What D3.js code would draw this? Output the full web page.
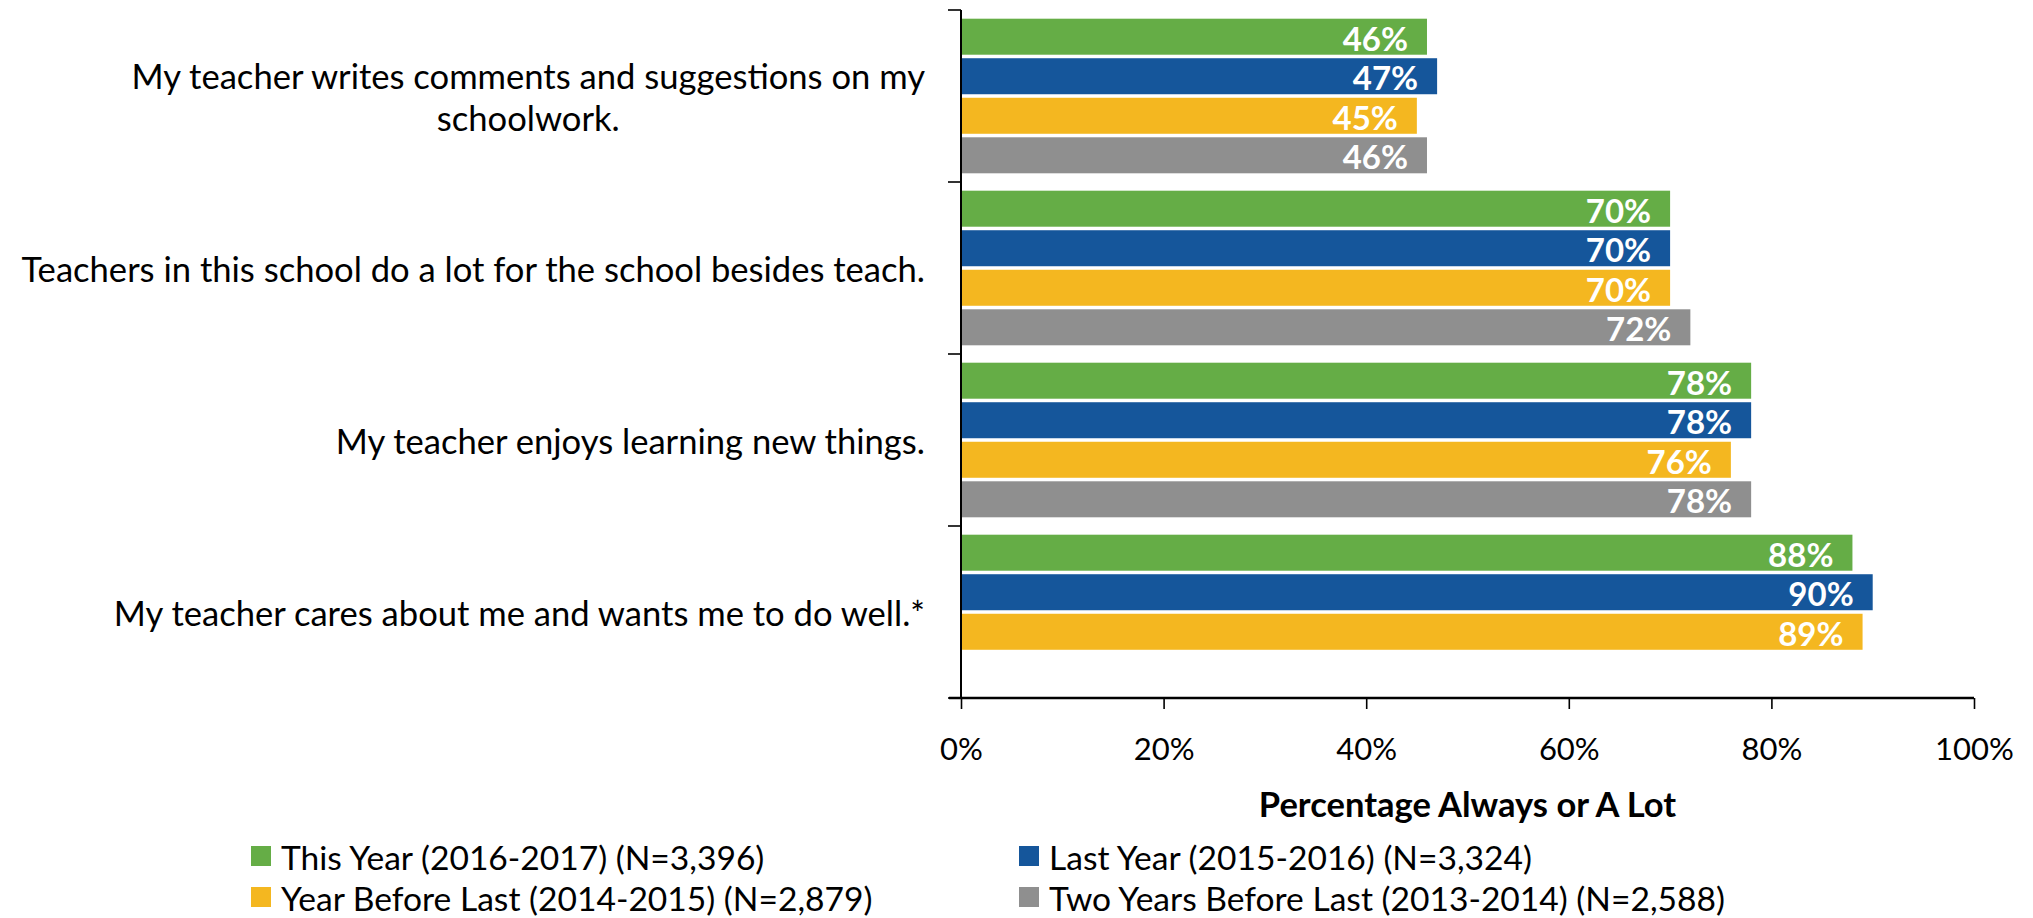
<!DOCTYPE html>
<html>
<head>
<meta charset="utf-8">
<script src="https://cdn.jsdelivr.net/npm/d3@7"></script>
<style>
  html, body { margin: 0; padding: 0; background: #ffffff; }
  svg { display: block; }
  text { font-family: Lato, "Open Sans", sans-serif; fill: #000; }
</style>
</head>
<body>
<svg id="chart" width="2033" height="918"></svg>
<script>
// Survey items, top to bottom
const categories = [
  "My teacher writes comments and suggestions on my schoolwork.",
  "Teachers in this school do a lot for the school besides teach.",
  "My teacher enjoys learning new things.",
  "My teacher cares about me and wants me to do well.*"
];
// Wrapped lines for the item labels
const categoryLines = [
  ["My teacher writes comments and suggestions on my", "schoolwork."],
  ["Teachers in this school do a lot for the school besides teach."],
  ["My teacher enjoys learning new things."],
  ["My teacher cares about me and wants me to do well.*"]
];

// Percentage answering "Always" or "A Lot" per year
const thisYear       = [46, 70, 78, 88];
const lastYear       = [47, 70, 78, 90];
const yearBeforeLast = [45, 70, 76, 89];
const twoYearsBefore = [46, 72, 78, null];

const seriesNames = [
  "This Year (2016-2017) (N=3,396)",
  "Last Year (2015-2016) (N=3,324)",
  "Year Before Last (2014-2015) (N=2,879)",
  "Two Years Before Last (2013-2014) (N=2,588)"
];
const seriesColors = ["#65ad46", "#15569b", "#f4b720", "#8f8f8f"];
const xTicks = [0, 20, 40, 60, 80, 100];
const xTitle = "Percentage Always or A Lot";

const seriesValues = [thisYear, lastYear, yearBeforeLast, twoYearsBefore];
const series = seriesNames.map((name, i) => ({ name, color: seriesColors[i], values: seriesValues[i] }));

const svg = d3.select("#chart");

const plot = { left: 961, right: 1974, top: 10, bottom: 698 };

const x = d3.scaleLinear().domain([0, 100]).range([plot.left, plot.right]);
const y = d3.scaleBand().domain(categories).range([plot.top, plot.bottom]).padding(0);
const ySub = d3.scaleBand()
  .domain(seriesNames)
  .range([0, y.bandwidth()])
  .paddingInner(0.089)
  .paddingOuter(0.22);

// Bars
const groups = svg.append("g").selectAll("g")
  .data(categories)
  .join("g")
  .attr("transform", d => `translate(0,${y(d)})`);

const cells = groups.selectAll("g.cell")
  .data((c, ci) => series.map(s => ({ s, v: s.values[ci] })).filter(d => d.v != null))
  .join("g").attr("class", "cell");

cells.append("rect")
  .attr("x", x(0))
  .attr("y", d => ySub(d.s.name))
  .attr("width", d => x(d.v) - x(0))
  .attr("height", ySub.bandwidth())
  .attr("fill", d => d.s.color);

cells.append("text")
  .attr("x", d => x(d.v) - 19)
  .attr("y", d => ySub(d.s.name) + ySub.bandwidth() / 2 + 1)
  .attr("text-anchor", "end")
  .attr("dominant-baseline", "central")
  .style("font-weight", "bold")
  .style("font-size", "33px")
  .style("fill", "#fff")
  .text(d => d.v + "%");

// Y axis: vertical line with ticks on category boundaries
const yAxis = svg.append("g");
yAxis.append("line")
  .attr("x1", x(0)).attr("x2", x(0))
  .attr("y1", plot.top).attr("y2", plot.bottom)
  .attr("stroke", "#000").attr("stroke-width", 2);
const boundaries = categories.map(c => y(c)).concat([plot.bottom]);
yAxis.selectAll("line.tick")
  .data(boundaries)
  .join("line").attr("class", "tick")
  .attr("x1", x(0) - 13).attr("x2", x(0))
  .attr("y1", d => d).attr("y2", d => d)
  .attr("stroke", "#000").attr("stroke-width", 1.6);

// Item labels, right-aligned with wrapped lines centred under the first
const labelRight = x(0) - 36;
const lineHeight = 42;
categories.forEach((c, ci) => {
  const lines = categoryLines[ci];
  const cy = y(c) + y.bandwidth() / 2;
  const g = svg.append("g");
  const first = g.append("text")
    .attr("x", labelRight)
    .attr("y", cy - (lines.length - 1) * lineHeight / 2)
    .attr("text-anchor", "end")
    .attr("dominant-baseline", "central")
    .style("font-size", "34.6px")
    .text(lines[0]);
  const w = first.node().getComputedTextLength();
  for (let i = 1; i < lines.length; i++) {
    g.append("text")
      .attr("x", labelRight - w / 2)
      .attr("y", cy - (lines.length - 1) * lineHeight / 2 + i * lineHeight)
      .attr("text-anchor", "middle")
      .attr("dominant-baseline", "central")
      .style("font-size", "34.6px")
      .text(lines[i]);
  }
});

// X axis
const xAxis = svg.append("g")
  .attr("transform", `translate(0,${plot.bottom})`)
  .call(d3.axisBottom(x).tickValues(xTicks).tickSize(11).tickFormat(d => d + "%"));
xAxis.select(".domain").attr("stroke", "#000").attr("stroke-width", 2.4)
  .attr("d", `M${x(0) - 12},0H${x(100)}`);
xAxis.selectAll(".tick line").attr("stroke", "#000").attr("stroke-width", 1.6);
xAxis.selectAll(".tick text")
  .attr("y", 50)
  .attr("dy", null)
  .attr("dominant-baseline", "central")
  .style("font-family", "Lato, 'Open Sans', sans-serif")
  .style("font-size", "31px")
  .style("fill", "#000");

svg.append("text")
  .attr("x", (x(0) + x(100)) / 2)
  .attr("y", 803)
  .attr("text-anchor", "middle")
  .attr("dominant-baseline", "central")
  .style("font-weight", "bold")
  .style("font-size", "34.5px")
  .text(xTitle);

// Legend: two columns, two rows
const legendCols = [251, 1019];
const legendRows = [846, 887];
const legend = svg.append("g").selectAll("g")
  .data(series)
  .join("g")
  .attr("transform", (d, i) => `translate(${legendCols[i % 2]},${legendRows[Math.floor(i / 2)]})`);
legend.append("rect")
  .attr("width", 20).attr("height", 20)
  .attr("fill", d => d.color);
legend.append("text")
  .attr("x", 30).attr("y", 11)
  .attr("dominant-baseline", "central")
  .style("font-size", "33.6px")
  .text(d => d.name);
</script>
</body>
</html>
